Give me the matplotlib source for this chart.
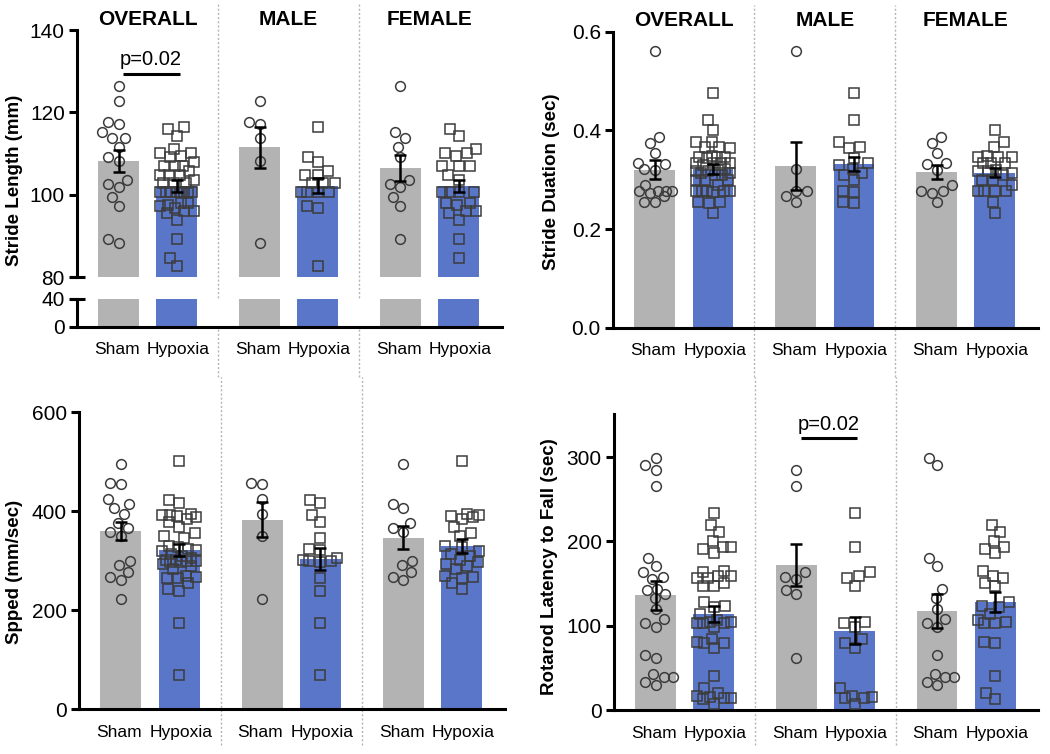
import matplotlib
matplotlib.use("Agg")
import matplotlib.pyplot as plt
import matplotlib.transforms as mtrans
import numpy as np

plt.rcParams.update({
    "font.family": ["Liberation Sans", "DejaVu Sans"],
    "font.size": 13,
    "axes.linewidth": 2.2,
    "xtick.major.width": 2.2,
    "ytick.major.width": 2.2,
    "ytick.major.size": 6,
})

W, H = 1050, 754
GROUPS = ["OVERALL", "MALE", "FEMALE"]
CONDS = ["Sham", "Hypoxia"]
GRAY = "#b3b3b3"
BLUE = "#5a76c9"
EDGE = "#3c3c3c"

# ── data ─────────────────────────────────────────────────────────────
# stride length (mm)
SL_MALE_SHAM = [122.7, 117.8, 117.3, 113.9, 108.3, 88.4]
SL_FEMALE_SHAM = [126.3, 115.2, 113.8, 111.7, 109.1, 103.7, 102.7, 101.9, 99.5, 97.4, 89.4]
SL_MALE_HYP = [116.4, 109.1, 107.9, 105.9, 104.9, 104.9, 102.8, 102.8, 102.8,
               100.6, 100.6, 100.6, 100.6, 97.4, 96.9, 82.7]
SL_FEMALE_HYP = [116.0, 114.4, 111.1, 110.2, 110.2, 109.5, 106.9, 106.9, 106.9, 104.7,
                 103.7, 100.6, 100.6, 100.6, 100.6, 98.1, 98.1, 97.5, 96.2, 96.0,
                 95.5, 94.0, 89.4, 84.8]
SL_MEAN = [[108.3, 102.2], [111.5, 102.2], [106.5, 102.1]]
SL_SEM = [[2.7, 1.5], [5.0, 1.8], [3.1, 1.4]]

# stride duration (sec)
SD_MALE_SHAM = [0.561, 0.321, 0.277, 0.277, 0.266, 0.254]
SD_FEMALE_SHAM = [0.387, 0.375, 0.355, 0.334, 0.331, 0.320, 0.289, 0.277, 0.277, 0.274, 0.254]
SD_MALE_HYP = [0.476, 0.421, 0.377, 0.367, 0.365, 0.345, 0.333, 0.330, 0.321, 0.314,
               0.310, 0.299, 0.277, 0.276, 0.254, 0.253]
SD_FEMALE_HYP = [0.401, 0.377, 0.367, 0.348, 0.346, 0.346, 0.346, 0.333, 0.333, 0.333,
                 0.320, 0.318, 0.318, 0.314, 0.310, 0.300, 0.299, 0.289, 0.277, 0.277,
                 0.277, 0.277, 0.254, 0.232]
SD_MEAN = [[0.320, 0.322], [0.328, 0.332], [0.316, 0.314]]
SD_SEM = [[0.019, 0.010], [0.048, 0.015], [0.014, 0.009]]

# speed (mm/sec)
SP_MALE_SHAM = [457, 454, 425, 395, 349, 223]
SP_FEMALE_SHAM = [496, 415, 406, 376, 366, 358, 299, 291, 277, 267, 260]
SP_MALE_HYP = [423, 416, 393, 378, 346, 324, 322, 305, 302, 300, 300, 298, 264, 239, 175, 70]
SP_FEMALE_HYP = [501, 395, 392, 390, 388, 385, 368, 355, 350, 330, 328, 320, 313, 310,
                 302, 297, 294, 290, 284, 270, 267, 265, 254, 242]
SP_MEAN = [[359, 322], [383, 304], [346, 330]]
SP_SEM = [[18, 12], [36, 22], [23, 14]]

# rotarod latency to fall (sec)
RR_MALE_SHAM = [285, 266, 164, 158, 156, 142, 138, 62]
RR_FEMALE_SHAM = [299, 290, 180, 171, 144, 133, 120, 108, 103, 99, 66, 43, 40, 39, 34, 30]
RR_MALE_HYP = [234, 194, 164, 159, 157, 147, 105, 103, 99, 84, 80, 74, 26, 17, 16, 15, 14, 8]
RR_FEMALE_HYP = [220, 211, 200, 194, 191, 186, 165, 159, 157, 151, 147, 128, 124, 122,
                 114, 107, 105, 103, 103, 81, 80, 41, 20, 13]
RR_MEAN = [[136, 114], [172, 94], [118, 128]]
RR_SEM = [[17, 9.5], [25, 16], [20, 12]]

PITCH = 2.42
BAR_W = 0.70
XLIM = (-0.71, 6.58)
MS = 7.0


def rect(left, top, right, bottom):
    return [left / W, 1 - bottom / H, (right - left) / W, (bottom - top) / H]


def xpos(g, c):
    return g * PITCH + c


def swarm(ax, vals, center, diam=11.0, maxoff=17.0):
    trans = ax.transData
    px_unit = trans.transform((1, 0))[0] - trans.transform((0, 0))[0]
    order = np.argsort(vals)
    placed = []
    out = np.zeros(len(vals))
    cands = np.arange(-maxoff, maxoff + 0.01, 0.5)
    cands = cands[np.argsort(np.abs(cands), kind="stable")]
    for i in order:
        yp = trans.transform((center, vals[i]))[1]
        best, best_d = 0.0, -1
        chosen = None
        for off in cands:
            d = min([np.hypot(off - px, yp - py) for px, py in placed] or [99])
            if d >= diam:
                chosen = off
                break
            if d > best_d:
                best, best_d = off, d
        if chosen is None:
            chosen = best
        placed.append((chosen, yp))
        out[i] = center + chosen / px_unit
    return out


def draw_points(ax, male, female):
    sets = [(male[0] + female[0], male[1] + female[1]), male, female]
    for g, (sham, hyp) in enumerate(sets):
        for c, vals, mk in ((0, sham, "o"), (1, hyp, "s")):
            xs = swarm(ax, vals, xpos(g, c))
            ax.plot(xs, vals, mk, ms=MS, mfc="none", mec=EDGE, mew=1.1, zorder=3, ls="none")


def draw_bars(ax, means, sems, err=True):
    for g in range(3):
        for c in range(2):
            ax.bar(xpos(g, c), means[g][c], BAR_W, color=GRAY if c == 0 else BLUE,
                   edgecolor="none", zorder=1)
            if err:
                ax.errorbar(xpos(g, c), means[g][c], yerr=sems[g][c], color="black",
                            lw=1.8, capsize=4.3, capthick=1.8, zorder=5)


def style(ax, xlabels=True):
    ax.set_xlim(*XLIM)
    ax.spines[["top", "right"]].set_visible(False)
    ax.tick_params(axis="y", labelsize=15, pad=3)
    if xlabels:
        ax.set_xticks([xpos(g, c) - 0.03 * (1 - 2 * c) for g in range(3) for c in range(2)],
                      CONDS * 3, fontsize=12.5)
        ax.tick_params(axis="x", length=0, pad=11)
    else:
        ax.set_xticks([])


def separators(fig, ax, y0, y1):
    tr = mtrans.blended_transform_factory(ax.transData, fig.transFigure)
    for g in (1, 2):
        x = xpos(g, 0) - (PITCH - 1) / 2
        ax.plot([x, x], [1 - y1 / H, 1 - y0 / H], transform=tr, color="#b5b5b5",
                lw=1.0, ls=(0, (1.5, 1.5)), clip_on=False, zorder=0)


def titles(fig, ax, ypix):
    tr = mtrans.blended_transform_factory(ax.transData, fig.transFigure)
    for g, name in enumerate(GROUPS):
        ax.text(xpos(g, 0.5), 1 - ypix / H, name, transform=tr, ha="center",
                va="center", fontsize=15, fontweight="bold")


def pvalue(ax, g, y_line, y_text):
    ax.plot([xpos(g, 0.08), xpos(g, 1.05)], [y_line, y_line], color="black", lw=2.2,
            solid_capstyle="butt", zorder=4)
    ax.text(xpos(g, 0.55), y_text, "p=0.02", ha="center", va="bottom", fontsize=14.5)


fig = plt.figure(figsize=(W / 100, H / 100), dpi=100)

# ── top left: stride length with broken axis ─────────────────────────
ax_up = fig.add_axes(rect(77.3, 30, 501.7, 277.3))
ax_lo = fig.add_axes(rect(77.3, 299, 501.7, 326.7))
for a in (ax_up, ax_lo):
    style(a, xlabels=(a is ax_lo))
    draw_bars(a, SL_MEAN, SL_SEM, err=(a is ax_up))
ax_up.set_ylim(80, 140)
ax_up.set_yticks([80, 100, 120, 140])
ax_up.spines["bottom"].set_visible(False)
ax_up.set_xticks([])
ax_lo.set_ylim(0, 40)
ax_lo.set_yticks([0, 40])
for a in (ax_up, ax_lo):
    # break marks crossing the spine
    y = 0 if a is ax_up else 1
    a.plot([-0.018, 0.018], [y, y], transform=a.transAxes, color="black", lw=2.2,
           clip_on=False, solid_capstyle="butt")
draw_points(ax_up, (SL_MALE_SHAM, SL_MALE_HYP), (SL_FEMALE_SHAM, SL_FEMALE_HYP))
pvalue(ax_up, 0, 129.4, 130.6)
separators(fig, ax_up, 3, 377)
titles(fig, ax_up, 19.5)
fig.text(15 / W, 1 - 180 / H, "Stride Length (mm)", rotation=90, ha="center",
         va="center", fontsize=13.5, fontweight="bold")

# ── top right: stride duration ───────────────────────────────────────
ax = fig.add_axes(rect(613.3, 31.7, 1038, 327.7))
style(ax)
ax.set_ylim(0, 0.6)
ax.set_yticks([0, 0.2, 0.4, 0.6], ["0.0", "0.2", "0.4", "0.6"])
draw_bars(ax, SD_MEAN, SD_SEM)
draw_points(ax, (SD_MALE_SHAM, SD_MALE_HYP), (SD_FEMALE_SHAM, SD_FEMALE_HYP))
separators(fig, ax, 5, 377)
titles(fig, ax, 20.7)
fig.text(551.7 / W, 1 - 182 / H, "Stride Duation (sec)", rotation=90, ha="center",
         va="center", fontsize=13.5, fontweight="bold")

# ── bottom left: speed ───────────────────────────────────────────────
ax = fig.add_axes(rect(79.3, 412, 505, 709.3))
style(ax)
ax.set_ylim(0, 600)
ax.set_yticks([0, 200, 400, 600])
draw_bars(ax, SP_MEAN, SP_SEM)
draw_points(ax, (SP_MALE_SHAM, SP_MALE_HYP), (SP_FEMALE_SHAM, SP_FEMALE_HYP))
separators(fig, ax, 377, 745)
fig.text(15 / W, 1 - 572 / H, "Spped (mm/sec)", rotation=90, ha="center",
         va="center", fontsize=13.5, fontweight="bold")

# ── bottom right: rotarod ────────────────────────────────────────────
ax = fig.add_axes(rect(614.3, 414, 1038.3, 710.3))
style(ax)
ax.set_ylim(0, 351)
ax.set_yticks([0, 100, 200, 300])
draw_bars(ax, RR_MEAN, RR_SEM)
draw_points(ax, (RR_MALE_SHAM, RR_MALE_HYP), (RR_FEMALE_SHAM, RR_FEMALE_HYP))
pvalue(ax, 1, 322.5, 327)
separators(fig, ax, 377, 745)
fig.text(550 / W, 1 - 567 / H, "Rotarod Latency to Fall (sec)", rotation=90, ha="center",
         va="center", fontsize=13.5, fontweight="bold")

fig.savefig("out.png", dpi=100)
